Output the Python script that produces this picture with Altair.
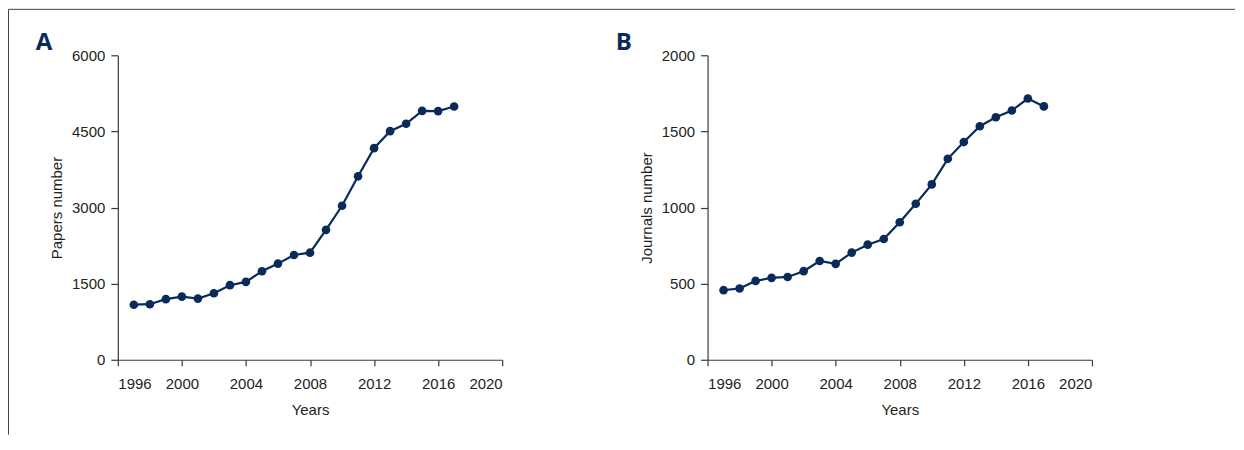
import altair as alt
import pandas as pd

years = list(range(1997, 2018))
papers = [1085, 1095, 1195, 1245, 1205, 1310, 1470, 1535, 1745, 1895, 2065, 2110,
          2560, 3035, 3615, 4170, 4505, 4650, 4905, 4900, 4990]
journals = [457, 468, 518, 538, 544, 582, 649, 630, 704, 756, 793, 903,
            1025, 1152, 1320, 1430, 1534, 1593, 1637, 1716, 1664]
x_ticks = [1996, 2000, 2004, 2008, 2012, 2016, 2020]
papers_ticks = [0, 1500, 3000, 4500, 6000]
journals_ticks = [0, 500, 1000, 1500, 2000]

FONT = "Liberation Sans"
NAVY = "#0a2a5a"
AX = "#3a3a3a"
W, H = 385, 305

dfA = pd.DataFrame({"year": years, "value": papers})
dfB = pd.DataFrame({"year": years, "value": journals})


def panel(df, ticks, ymax, ytitle, letter, letter_x, frame):
    xenc = alt.X("year:Q", scale=alt.Scale(domain=[1996, 2020], nice=False, zero=False),
                 axis=alt.Axis(values=x_ticks, format="d", title="Years", grid=False,
                               tickSize=6, labelPadding=11, titleY=50, titleX=W / 2,
                               titleBaseline="middle"))
    yenc = alt.Y("value:Q", scale=alt.Scale(domain=[0, ymax], nice=False),
                 axis=alt.Axis(values=ticks, format="d", title=ytitle, grid=False, tickSize=7,
                               labelPadding=6, titleX=-61, titleY=H / 2, titleAngle=-90,
                               titleBaseline="middle", titleAlign="center"))
    base = alt.Chart(df).encode(x=xenc, y=yenc)
    line = base.mark_line(color=NAVY, strokeWidth=2.2)
    pts = base.mark_circle(color=NAVY, size=75, opacity=1)
    lab = alt.Chart(pd.DataFrame({"t": [letter]})).mark_text(
        font="Open Sans", fontSize=24, fontWeight="bold", color=NAVY,
        align="center", baseline="middle", clip=False
    ).encode(text="t:N", x=alt.value(letter_x), y=alt.value(-12))
    layers = [line, pts, lab]
    if frame:
        top = alt.Chart(pd.DataFrame({"a": [0]})).mark_rule(
            color="#444444", strokeWidth=1).encode(
            x=alt.value(-109.5), x2=alt.value(1119), y=alt.value(-46))
        lft = alt.Chart(pd.DataFrame({"a": [0]})).mark_rule(
            color="#444444", strokeWidth=1).encode(
            x=alt.value(-109.5), y=alt.value(-46), y2=alt.value(380))
        layers = [top, lft] + layers
    return alt.layer(*layers).properties(width=W, height=H)


A = panel(dfA, papers_ticks, 6000, "Papers number", "A", -74, True)
B = panel(dfB, journals_ticks, 2000, "Journals number", "B", -84, False)

chart = alt.hconcat(A, B, spacing=205.7, bounds="flush").properties(padding=0).configure_view(
    stroke=None
).configure_axis(
    labelFont=FONT, titleFont=FONT, labelFontSize=15, titleFontSize=15,
    titleFontWeight="normal", labelColor="#231f20", titleColor="#231f20",
    domainColor=AX, tickColor=AX, domainWidth=1.2, tickWidth=1.2
)

chart.save("out.html", embed_options={"renderer": "svg", "actions": False})
